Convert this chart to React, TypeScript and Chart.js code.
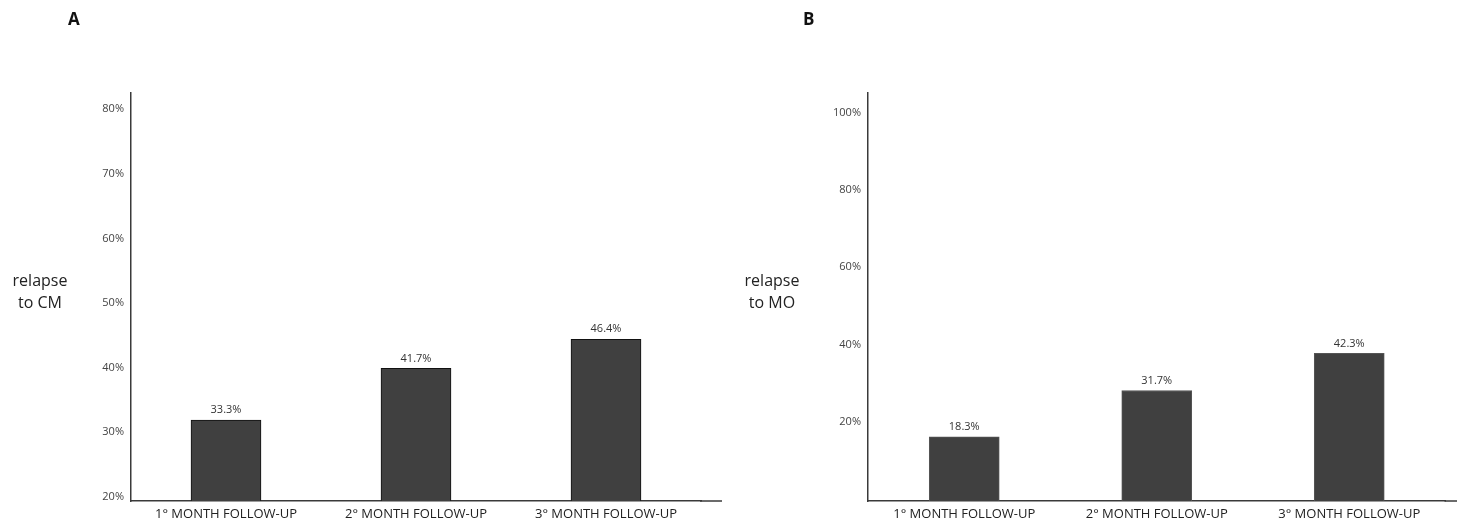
import React, { useEffect, useRef } from "react";
import { Chart, registerables } from "chart.js";

Chart.register(...registerables);

const categories = ["1° MONTH FOLLOW-UP", "2° MONTH FOLLOW-UP", "3° MONTH FOLLOW-UP"];

// Panel A: relapse to CM
const barsCM = [32.5, 40.5, 45.0];
const labelsCM = ["33.3%", "41.7%", "46.4%"];
const ticksCM = [20, 30, 40, 50, 60, 70, 80];

// Panel B: relapse to MO
const barsMO = [16.6, 28.6, 38.2];
const labelsMO = ["18.3%", "31.7%", "42.3%"];
const ticksMO = [20, 40, 60, 80, 100];

const FONT = "'Open Sans', 'Noto Sans', sans-serif";

type Panel = {
  left: number;
  width: number;
  yWidth: number;
  padRight: number;
  yMin: number;
  yMax: number;
  labelOffset: number;
  axisExt: number;
  bars: number[];
  labels: string[];
  ticks: number[];
  barBorder: string;
};

const panels: Panel[] = [
  {
    left: 0,
    width: 740,
    yWidth: 131,
    padRight: 39,
    yMin: 20,
    yMax: 83.1,
    labelOffset: -4,
    axisExt: 21,
    bars: barsCM,
    labels: labelsCM,
    ticks: ticksCM,
    barBorder: "#111111",
  },
  {
    left: 740,
    width: 725,
    yWidth: 128,
    padRight: 19.5,
    yMin: 0,
    yMax: 105.6,
    labelOffset: -2,
    axisExt: 13,
    bars: barsMO,
    labels: labelsMO,
    ticks: ticksMO,
    barBorder: "#555555",
  },
];

function PanelChart({ p }: { p: Panel }) {
  const ref = useRef<HTMLCanvasElement | null>(null);
  useEffect(() => {
    if (!ref.current) return;
    const valueLabels = {
      id: "valueLabels",
      afterDatasetsDraw(chart: any) {
        const ctx = chart.ctx;
        const meta = chart.getDatasetMeta(0);
        ctx.save();
        ctx.font = `11px ${FONT}`;
        ctx.fillStyle = "#333333";
        ctx.textAlign = "center";
        ctx.textBaseline = "middle";
        meta.data.forEach((bar: any, i: number) => {
          ctx.fillText(p.labels[i], bar.x, bar.y - 10);
        });
        ctx.restore();
      },
    };
    const axisExtend = {
      id: "axisExtend",
      afterDraw(chart: any) {
        const ctx = chart.ctx;
        const a = chart.chartArea;
        ctx.save();
        ctx.strokeStyle = "#3a3a3a";
        ctx.lineWidth = 1.5;
        ctx.beginPath();
        ctx.moveTo(a.right - 1, a.bottom);
        ctx.lineTo(a.right + p.axisExt, a.bottom);
        ctx.stroke();
        ctx.restore();
      },
    };
    const chart = new Chart(ref.current, {
      type: "bar",
      data: {
        labels: categories,
        datasets: [
          {
            data: p.bars,
            backgroundColor: "#404040",
            borderColor: p.barBorder,
            borderWidth: 1,
            barThickness: 70,
            base: p.yMin,
          } as any,
        ],
      },
      options: {
        responsive: false,
        animation: false,
        devicePixelRatio: 1,
        layout: { padding: { top: 93, right: p.padRight, left: 0, bottom: 0 } },
        plugins: {
          legend: { display: false },
          tooltip: { enabled: false },
          title: { display: false },
        },
        scales: {
          x: {
            grid: { display: false, drawTicks: false },
            border: { display: true, color: "#3a3a3a", width: 1.5 },
            ticks: {
              padding: 5,
              font: { family: FONT, size: 13 },
              color: "#222222",
              maxRotation: 0,
              autoSkip: false,
            },
            afterFit: (s: any) => {
              s.height = 22;
            },
          },
          y: {
            min: p.yMin,
            max: p.yMax,
            grid: { display: false, drawTicks: false },
            border: { display: true, color: "#3a3a3a", width: 1.5 },
            ticks: {
              padding: 7,
              labelOffset: p.labelOffset,
              font: { family: FONT, size: 11 },
              color: "#444444",
              callback: (v: any) => v + "%",
            },
            afterBuildTicks: (s: any) => {
              s.ticks = p.ticks.map((v) => ({ value: v }));
            },
            afterFit: (s: any) => {
              s.width = p.yWidth;
            },
          },
        },
      } as any,
      plugins: [valueLabels, axisExtend],
    });
    return () => chart.destroy();
  }, [p]);
  return (
    <canvas
      ref={ref}
      width={p.width}
      height={523}
      style={{ position: "absolute", left: p.left, top: 0, width: p.width, height: 523 }}
    />
  );
}

const textBase: React.CSSProperties = {
  position: "absolute",
  fontFamily: FONT,
  color: "#222222",
  whiteSpace: "nowrap",
};

export default function App() {
  return (
    <div
      style={{
        position: "relative",
        width: 1465,
        height: 523,
        marginLeft: -8,
        marginTop: -8,
        background: "#ffffff",
        overflow: "hidden",
      }}
    >
      {panels.map((p, i) => (
        <PanelChart key={i} p={p} />
      ))}
      <div style={{ ...textBase, left: 68, top: 8, fontSize: 17, fontWeight: 700, lineHeight: "22px", color: "#111" }}>A</div>
      <div style={{ ...textBase, left: 803, top: 8, fontSize: 17, fontWeight: 700, lineHeight: "22px", color: "#111" }}>B</div>
      <div style={{ ...textBase, left: 0, width: 80, top: 269, fontSize: 16, lineHeight: "22px", textAlign: "center" }}>
        relapse
        <br />
        to CM
      </div>
      <div style={{ ...textBase, left: 732, width: 80, top: 269, fontSize: 16, lineHeight: "22px", textAlign: "center" }}>
        relapse
        <br />
        to MO
      </div>
    </div>
  );
}
